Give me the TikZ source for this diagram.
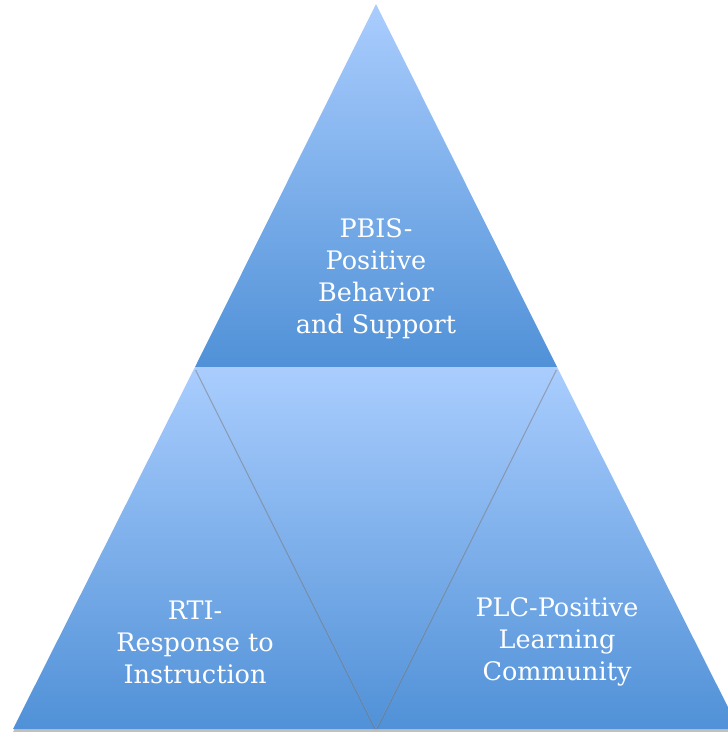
\documentclass[tikz,border=0pt]{standalone}
\usepackage{fontspec}
\setmainfont{DejaVu Serif}
\usetikzlibrary {shadows}

\definecolor{tiptop}{RGB}{170,205,254}
\definecolor{tipbot}{RGB}{80,145,215}

\tikzset{
    tri/.style={top color=tiptop, bottom color=tipbot,
        drop shadow={shadow xshift=0pt, shadow yshift=-3pt, opacity=0.45, fill=black!55}},
    lbl/.style={text=white, align=center, font=\fontsize{25.5}{32}\selectfont}
}

\begin{document}
\begin{tikzpicture}[x=1pt, y=-1pt]
    \useasboundingbox (0, 0) rectangle (728, 732);
    \clip (0, 0) rectangle (728, 732);

    \coordinate (apex) at (376, 4);
    \coordinate (ml) at (195, 367);
    \coordinate (mr) at (557, 367);
    \coordinate (bl) at (13, 729);
    \coordinate (bm) at (376, 729);
    \coordinate (br) at (739, 729);

    \shade[tri] (apex) -- (mr) -- (ml) -- cycle;
    \shade[tri] (ml) -- (bm) -- (bl) -- cycle;
    \shade[tri] (mr) -- (br) -- (bm) -- cycle;
    \shade[tri] (ml) -- (mr) -- (bm) -- cycle;

    \node[lbl] (pbis) at (376, 279) {PBIS-\\Positive\\Behavior\\and Support};
    \node[lbl] (rti) at (195, 642) {RTI-\\Response to\\Instruction};
    \node[lbl] (plc) at (557, 642) {PLC-Positive\\Learning\\Community};
\end{tikzpicture}
\end{document}
